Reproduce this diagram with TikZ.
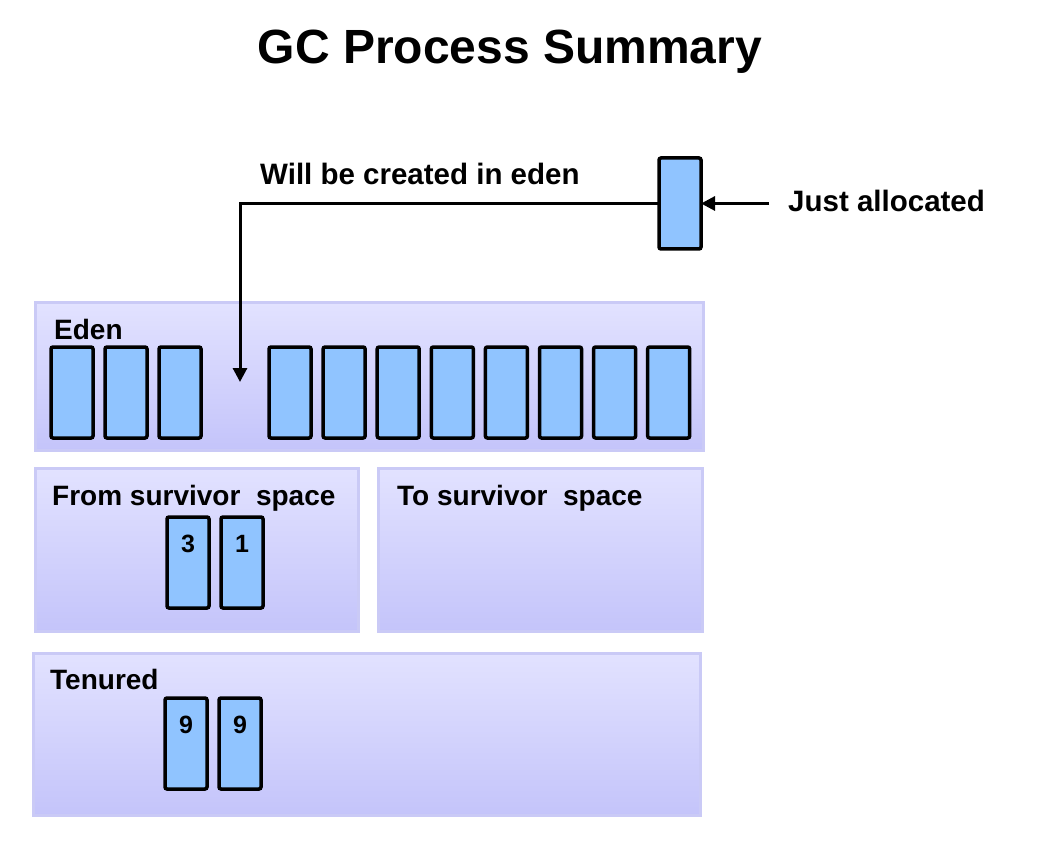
\documentclass[tikz,border=0pt]{standalone}
\usepackage{fontspec}
\setmainfont{Liberation Sans}
\usetikzlibrary{arrows.meta}
\definecolor{regtop}{RGB}{226,226,255}
\definecolor{regbot}{RGB}{196,196,250}
\definecolor{regborder}{RGB}{202,202,246}
\definecolor{boxblue}{RGB}{144,196,255}
\begin{document}
\begin{tikzpicture}[x=1pt,y=-1pt,
  region/.style={draw=regborder, line width=3pt, top color=regtop, bottom color=regbot,
    anchor=north west, inner sep=0pt, outer sep=0pt},
  objbox/.style={draw=black, fill=boxblue, line width=3.5pt, rounded corners=2pt,
    minimum width=42pt, minimum height=91pt, anchor=north west, inner sep=0pt, outer sep=0pt},
  numlbl/.style={anchor=center, yshift=-27pt, inner sep=0pt, font=\fontsize{25}{27}\selectfont\bfseries},
  reglbl/.style={anchor=base west, inner sep=0pt, font=\fontsize{28}{30}\selectfont\bfseries},
  callout/.style={anchor=base west, inner sep=0pt, font=\fontsize{29.5}{31}\selectfont\bfseries},
  conn/.style={draw=black, line width=3pt, -{Triangle[length=14pt,width=14pt]}}
]
\useasboundingbox (0,0) rectangle (1052,850);
\fill[white] (0,0) rectangle (1052,850);

% title
\node[anchor=base, inner sep=0pt, font=\fontsize{48}{50}\selectfont\bfseries] (title) at (510,64) {GC Process Summary};

% regions
\node[region, minimum width=668pt, minimum height=147pt] (eden) at (35,303) {};
\node[region, minimum width=323pt, minimum height=163pt] (from) at (35,468) {};
\node[region, minimum width=324pt, minimum height=163pt] (to) at (378,468) {};
\node[region, minimum width=667pt, minimum height=162pt] (tenured) at (33,653) {};

% region labels
\node[reglbl] (edenlbl) at (54,339) {Eden};
\node[reglbl] (fromlbl) at (52,505) {From survivor\ \ space};
\node[reglbl] (tolbl) at (397,505) {To survivor\ \ space};
\node[reglbl] (tenlbl) at (50,689) {Tenured};

% eden objects
\foreach \i in {0,1,2} {
  \node[objbox] (e\i) at ({51+54*\i},347) {};
}
\foreach \i in {0,...,7} {
  \node[objbox] (f\i) at ({269+54.1*\i},347) {};
}

% survivor objects
\node[objbox, label={[numlbl]north:3}] (s3) at (167,517) {};
\node[objbox, label={[numlbl]north:1}] (s1) at (221,517) {};

% tenured objects
\node[objbox, label={[numlbl]north:9}] (t1) at (165,698) {};
\node[objbox, label={[numlbl]north:9}] (t2) at (219,698) {};

% just allocated object
\node[objbox] (alloc) at (659,158) {};

% callouts
\node[callout] (created) at (260,185) {Will be created in eden};
\node[callout] (justlbl) at (788,212) {Just allocated};

% connectors
\coordinate (edentarget) at (240,382);
\coordinate (jatail) at (769,203.5);
\draw[conn] (alloc.west) -| (edentarget);
\draw[conn] (jatail) -- (alloc.east);
\end{tikzpicture}
\end{document}
